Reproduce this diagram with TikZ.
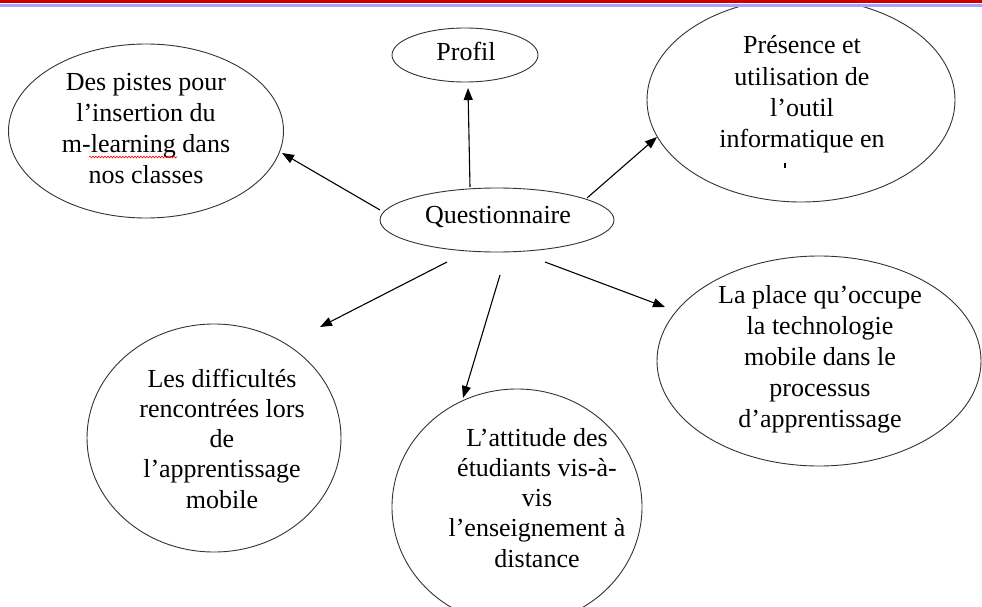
\documentclass[tikz,border=0pt]{standalone}
\usepackage{fontspec}
\setmainfont{Liberation Serif}
\usetikzlibrary{arrows.meta,shapes.geometric,decorations.pathmorphing}
\begin{document}
\begin{tikzpicture}[x=1pt,y=-1pt,
  bubble/.style={draw=black!80, line width=0.9pt, ellipse, inner sep=0pt},
  txt/.style={font=\fontsize{26}{31}\selectfont, align=center, inner sep=0pt, anchor=base},
  txtb/.style={txt, font=\fontsize{26}{30.2}\selectfont},
  arr/.style={line width=1.1pt, -{Triangle[length=12pt,width=9pt]}}]
\useasboundingbox (0,0) rectangle (982,607);
\fill[white] (0,0) rectangle (982,607);
\begin{scope}
\clip (0,0) rectangle (982,607);
\node[bubble, minimum width=146pt, minimum height=54pt] (profil) at (465,55) {};
\node[bubble, minimum width=234pt, minimum height=64pt] (quest) at (497,220) {};
\node[bubble, minimum width=275pt, minimum height=174pt] (pistes) at (146,131) {};
\node[bubble, minimum width=308pt, minimum height=204pt] (presence) at (801,100) {};
\node[bubble, minimum width=324pt, minimum height=210pt] (place) at (819,361) {};
\node[bubble, minimum width=254pt, minimum height=228pt] (diff) at (214,438) {};
\node[bubble, minimum width=250pt, minimum height=236pt] (attitude) at (517,507) {};
\end{scope}

% base anchor = baseline of the last line
\node[txt] (tprofil) at (466,61) {Profil};
\node[txt] (tquest) at (498,223) {Questionnaire};
\node[txt] (tpistes) at (146,183) {Des pistes pour\\l’insertion du\\m-learning dans\\nos classes};
\node[txt] (tpresence) at (802,147) {Présence et\\utilisation de\\l’outil\\informatique en};
\node[txt] (tplace) at (820,427) {La place qu’occupe\\la technologie\\mobile dans le\\processus\\d’apprentissage};
\node[txtb] (tdiff) at (222,508) {Les difficultés\\rencontrées lors\\de\\l’apprentissage\\mobile};
\node[txtb] (tattitude) at (537,567) {L’attitude des\\étudiants vis-à-\\vis\\l’enseignement à\\distance};

% clipped remnant of a fifth line
\draw[line width=1.6pt] (785,163) -- (785,168);
% spell-check underline
\draw[red, line width=0.6pt, decorate, decoration={snake, amplitude=0.9pt, segment length=3pt}] (89,157) -- (177,157);

\coordinate (s1) at (470,187); \coordinate (e1) at (468,88);
\coordinate (s2) at (380,210); \coordinate (e2) at (282,153);
\coordinate (s3) at (587,198); \coordinate (e3) at (657,137);
\coordinate (s4) at (447,262); \coordinate (e4) at (320,327);
\coordinate (s5) at (500,275); \coordinate (e5) at (463,398);
\coordinate (s6) at (545,262); \coordinate (e6) at (665,307);
\draw[arr] (s1) -- (e1);
\draw[arr] (s2) -- (e2);
\draw[arr] (s3) -- (e3);
\draw[arr] (s4) -- (e4);
\draw[arr] (s5) -- (e5);
\draw[arr] (s6) -- (e6);

% window ribbon
\fill[red!80!black] (0,0) rectangle (982,3.5);
\fill[white] (0,3.5) rectangle (982,4.2);
\fill[blue!35!white] (0,4.2) rectangle (982,7.5);
\end{tikzpicture}
\end{document}
